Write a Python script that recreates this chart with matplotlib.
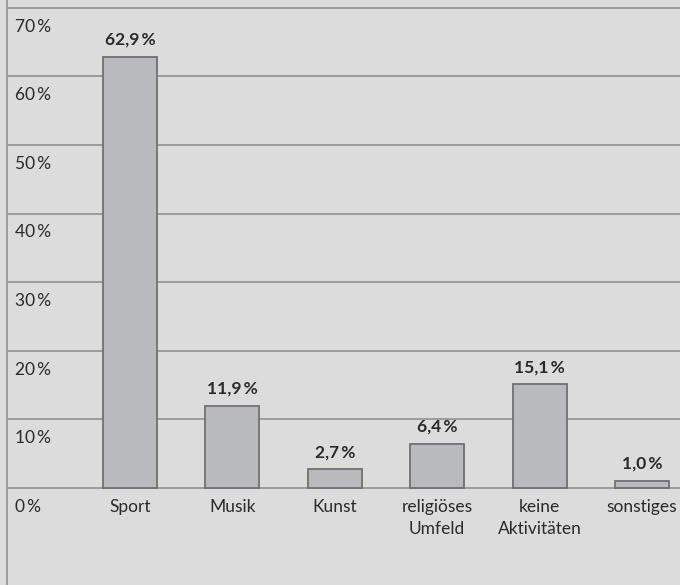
import matplotlib
matplotlib.use('Agg')
import matplotlib.pyplot as plt

plt.rcParams['font.family'] = ['Lato', 'DejaVu Sans']

categories = ['Sport', 'Musik', 'Kunst', 'religiöses\nUmfeld', 'keine\nAktivitäten', 'sonstiges']
values = [62.9, 11.9, 2.7, 6.4, 15.1, 1.0]
value_labels = ['62,9\u2009%', '11,9\u2009%', '2,7\u2009%', '6,4\u2009%', '15,1\u2009%', '1,0\u2009%']
yticks = [0, 10, 20, 30, 40, 50, 60, 70]
ytick_labels = ['0\u2009%', '10\u2009%', '20\u2009%', '30\u2009%', '40\u2009%', '50\u2009%', '60\u2009%', '70\u2009%']

bg = '#dcdcdd'
bar_color = '#b9babd'
edge_color = '#707070'
grid_color = '#9c9c9c'
text_color = '#2a2a2a'

fig = plt.figure(figsize=(6.8, 5.85), dpi=100, facecolor=bg)
ax = fig.add_axes([0, 0, 1, 1])
ax.set_facecolor(bg)
ax.axis('off')

step = 102.4
x0 = 130
xmin = -x0 / step
xmax = (680 - x0) / step
ax.set_xlim(xmin, xmax)
pp = 6.86
ax.set_ylim((488 - 585) / pp, 488 / pp)

xline = (7 - x0) / step
ax.hlines(yticks, xline, xmax, colors=grid_color, linewidth=1.4, zorder=1)
ax.axvline(xline, color=grid_color, linewidth=1.4, zorder=1)

xs = list(range(len(categories)))
ax.bar(xs, values, width=54 / step, color=bar_color, edgecolor=edge_color,
       linewidth=1.3, zorder=3)

fs = 12.5
for yv, lab in zip(yticks, ytick_labels):
    ax.annotate(lab, xy=((15 - x0) / step, yv), xytext=(0, -13.5),
                textcoords='offset points', ha='left', va='center',
                fontsize=fs, color=text_color)

for x, v, lab in zip(xs, values, value_labels):
    ax.annotate(lab, xy=(x, v), xytext=(0, 12.5), textcoords='offset points',
                ha='center', va='center', fontsize=fs, fontweight='bold',
                color=text_color)

for x, c in zip(xs, categories):
    ax.annotate(c, xy=(x, 0), xytext=(0, -8), textcoords='offset points',
                ha='center', va='top', fontsize=fs, color=text_color,
                linespacing=1.45)

fig.savefig('out.png', dpi=100, facecolor=bg)
